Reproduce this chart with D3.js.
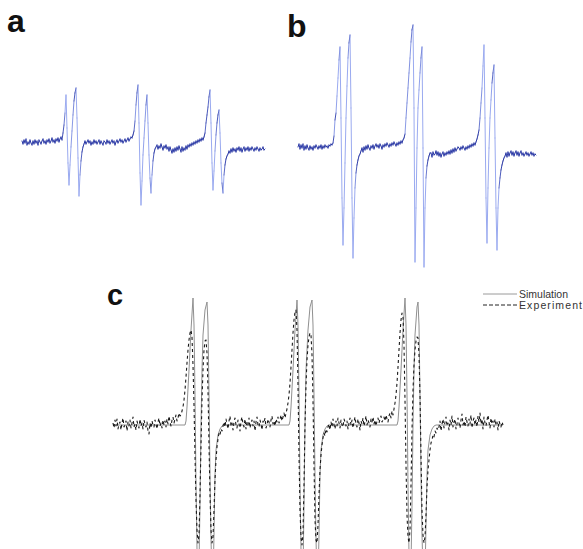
<!DOCTYPE html>
<html>
<head>
<meta charset="utf-8">
<script src="https://cdn.jsdelivr.net/npm/d3@7"></script>
<style>
  body { margin: 0; background: #fff; }
  svg { display: block; }
</style>
</head>
<body>
<div id="viz-svg"></div>
<script>
// EPR spectra, intensity, one value per field channel

// panel a
const intensityA = [
  2,-1,3,0,4,-2,1,-1,3,0,-2,2,-1,3,0,2,-2,3,1,-1,2,4,0,2,-1,3,1,4,0,2,5,1,3,0,4,2,5,1,4,6,3,
  10,18,30,48,15,-20,-42,-22,-4,12,28,42,50,55,25,-15,-53,-32,-18,-9,-4,-1,
  2,-1,1,3,0,2,-2,1,-1,3,0,2,-1,1,3,-1,2,0,-2,2,1,-1,3,0,2,-1,1,3,0,2,-2,1,3,0,2,4,1,3,0,2,4,1,3,5,2,4,6,5,8,
  12,22,38,50,58,20,-30,-62,-38,-12,5,22,38,48,20,-12,-35,-50,-32,-18,-10,-6,-4,
  -2,-6,-3,-5,-1,-4,-7,-3,-5,-2,-6,-4,-8,-4,-7,-10,-6,-9,-5,-8,-4,-7,-3,-6,-9,-4,-8,-5,-7,-3,-6,-2,-4,-1,-3,0,-2,1,-1,2,0,3,1,4,2,5,3,6,
  10,20,28,36,46,53,20,-20,-47,-28,-8,8,20,28,33,10,-20,-40,-50,-32,-22,-16,-13,-11,
  -8,-10,-6,-9,-5,-8,-6,-9,-5,-7,-4,-8,-5,-9,-6,-4,-8,-5,-7,-4,-8,-5,-7,-4,-6,-8,-5,-7,-4,-6,-8,-5,-7,-6,-4,-7,-6
];

// panel b
const intensityB = [
  1,4,-1,3,0,4,-2,2,-1,3,0,-2,2,-1,1,-2,2,0,3,1,-1,2,0,3,-1,2,0,3,1,2,0,3,2,4,3,5,
  12,28,35,52,70,88,101,30,-50,-97,-60,-15,30,62,90,105,113,40,-50,-110,-70,-40,-25,-17,-12,-8,-6,
  -3,0,-4,1,-2,2,-1,3,0,-2,2,0,3,-1,2,4,1,3,0,4,2,-1,3,1,4,2,5,3,1,4,2,5,3,6,4,2,5,3,6,4,7,5,8,10,14,
  30,45,60,75,90,106,118,123,40,-114,-60,0,40,58,75,90,101,0,-119,-60,-30,-18,-12,-8,-5,
  -5,-9,-4,-7,-6,-3,-7,-4,-8,-5,-9,-6,-4,-8,-5,-7,-4,-6,-3,-6,-2,-5,-1,-4,0,-3,-1,1,0,-2,1,-1,2,0,-2,1,-1,2,0,3,1,4,2,5,3,6,9,13,18,
  30,45,60,82,103,30,-50,-95,-40,0,30,48,65,75,83,10,-60,-102,-60,-40,-30,-22,-17,-13,-10,-8,
  -5,-9,-4,-8,-5,-3,-7,-4,-8,-5,-3,-7,-4,-8,-5,-3,-7,-5,-8,-6,-4,-7,-5,-8,-6,-4,-7,-5,-8,-6,-7
];

// panel c, simulation: [channel, intensity]
const simulationC = [
  [0,0],[72,0],[73,4],[74,18],[76,55],[78,95],[80,127],[81,100],[82,30],[83,-60],[84,-125],[85,-155],
  [86,-140],[87,-80],[88,0],[89,55],[90,90],[92,115],[94,123],[95,100],[96,30],[97,-50],[98,-115],
  [99,-150],[100,-155],[101,-110],[102,-50],[103,-25],[105,-10],[107,-4],[109,-1],[111,0],
  [176,0],[177,4],[178,18],[180,55],[182,95],[184,125],[185,100],[186,30],[187,-60],[188,-125],
  [189,-155],[190,-150],[191,-80],[192,0],[193,55],[195,95],[197,118],[199,125],[200,100],[201,30],
  [202,-50],[203,-115],[204,-150],[205,-155],[206,-110],[207,-50],[208,-25],[210,-10],[212,-4],[214,-1],[216,0],
  [284,0],[285,4],[286,18],[288,55],[290,95],[292,127],[293,100],[294,30],[295,-60],[296,-130],
  [297,-155],[298,-140],[299,-80],[300,0],[301,55],[302,90],[304,118],[305,123],[306,100],[307,30],
  [308,-50],[309,-110],[310,-145],[311,-155],[312,-150],[313,-100],[314,-50],[315,-25],[317,-10],
  [319,-4],[321,-1],[323,0],[390,0]
];

// panel c, experiment: one value per channel
const experimentC = [
  2,-3,5,-1,6,-4,1,3,-5,2,7,-2,0,4,-6,3,-1,5,-3,2,8,-2,1,-5,4,0,-3,6,-1,2,-4,5,1,-2,3,-6,-9,2,-3,4,
  0,-2,5,1,-4,3,7,-1,2,-3,5,0,4,-2,6,1,9,3,-1,5,8,2,6,10,4,7,12,9,
  10,14,18,25,35,48,62,75,85,92,95,88,60,20,-30,-75,-105,-118,-110,-70,-20,25,55,75,84,85,72,35,-20,-70,
  -105,-118,-112,-85,-55,-35,-22,-14,-8,-10,-4,-6,-1,
  3,-2,6,1,-4,4,9,-1,2,-5,3,7,0,-3,5,2,-6,4,8,1,-2,6,-4,3,0,7,-3,2,5,-1,4,-6,3,8,0,-2,5,1,-5,4,
  2,7,-3,0,6,3,-2,5,9,1,4,-1,6,3,8,2,5,10,4,8,12,7,
  12,16,22,30,42,58,75,92,105,113,115,95,40,-30,-85,-112,-120,-108,-60,0,40,65,80,88,92,90,70,25,-40,-95,
  -115,-118,-100,-70,-45,-30,-20,-13,-8,-11,-4,-7,-2,
  1,-5,3,-2,6,0,-4,4,-1,7,2,-3,5,0,-2,6,3,-1,4,-4,2,7,0,5,-3,3,8,1,-2,6,2,-5,4,1,7,-1,3,9,0,5,
  2,-2,6,3,8,1,5,-1,4,7,2,6,9,3,5,8,4,10,6,3,9,12,7,14,10,
  16,22,30,42,58,75,92,105,112,108,80,25,-40,-90,-112,-118,-105,-60,-5,35,60,75,84,88,87,70,30,-30,-85,-110,
  -118,-112,-90,-62,-45,-35,-25,-18,-15,-10,-12,-6,-8,-3,-5,
  -2,4,-6,1,6,-3,3,8,-1,2,-5,5,0,9,-2,3,6,-4,1,7,2,-3,5,11,0,4,-2,8,3,-1,6,1,10,-3,4,7,0,5,-2,9,
  3,12,1,6,-4,8,2,-1,5,10,3,-3,7,1,4,-2,6,0,3,-5,4,1,-2,3,0
];

const panelLabels = ["a", "b", "c"];
const legendLabels = ["Simulation", "Experiment"];

const width = 583;
const height = 549;

const svg = d3
  .select("#viz-svg")
  .append("svg")
  .attr("width", width)
  .attr("height", height)
  .style("font-family", "Arial, 'Liberation Sans', sans-serif");

svg.append("rect").attr("width", width).attr("height", height).attr("fill", "#fff");

function toPoints(values) {
  return values.map((v, i) => (Array.isArray(v) ? v : [i, v]));
}

function makeScales(pts, xRange, yRange, yDomain) {
  const x = d3
    .scaleLinear()
    .domain(d3.extent(pts, d => d[0]))
    .range(xRange);
  const y = d3.scaleLinear().domain(yDomain).range(yRange);
  return { x, y };
}

// blue scans: steep parts look pale, the noisy baseline dense and dark
const blueShade = d3.interpolateRgb("#2c3aa6", "#9aaaf0");

function drawBlue(values, xRange, yRange, yDomain) {
  const pts = toPoints(values);
  const { x, y } = makeScales(pts, xRange, yRange, yDomain);
  const segs = d3.pairs(pts);
  svg
    .append("g")
    .selectAll("line")
    .data(segs)
    .join("line")
    .attr("x1", d => x(d[0][0]))
    .attr("y1", d => y(d[0][1]))
    .attr("x2", d => x(d[1][0]))
    .attr("y2", d => y(d[1][1]))
    .attr("stroke", d => {
      const dy = Math.abs(y(d[1][1]) - y(d[0][1]));
      return blueShade(Math.min(1, Math.max(0, (dy - 4) / 14)));
    })
    .attr("stroke-width", 1)
    .attr("stroke-linecap", "round");
}

function drawTrace(values, xRange, yRange, yDomain, style) {
  const pts = toPoints(values);
  const { x, y } = makeScales(pts, xRange, yRange, yDomain);
  const line = d3
    .line()
    .x(d => x(d[0]))
    .y(d => y(d[1]));
  const path = svg
    .append("path")
    .datum(pts)
    .attr("d", line)
    .attr("fill", "none")
    .attr("stroke", style.color)
    .attr("stroke-width", style.width)
    .attr("stroke-linejoin", "round");
  if (style.dash) path.attr("stroke-dasharray", style.dash);
  return path;
}

// a and b
drawBlue(intensityA, [22, 265], [213, 73], [-70, 70]);
drawBlue(intensityB, [298, 536], [278, 18], [-130, 130]);

// c: simulation vs experiment
drawTrace(simulationC, [113, 503], [585, 265], [-160, 160], { color: "#909090", width: 1 });
drawTrace(experimentC, [113, 503], [585, 265], [-160, 160], { color: "#1a1a1a", width: 1.1, dash: "3,3" });

// panel letters
const labelPos = [
  { x: 7, y: 32, size: 32 },
  { x: 287, y: 37, size: 32 },
  { x: 107, y: 305, size: 29 }
];
svg
  .selectAll("text.panel")
  .data(panelLabels)
  .join("text")
  .attr("class", "panel")
  .attr("x", (d, i) => labelPos[i].x)
  .attr("y", (d, i) => labelPos[i].y)
  .attr("font-size", (d, i) => labelPos[i].size)
  .attr("font-weight", "bold")
  .attr("fill", "#111")
  .text(d => d);

// legend
const legend = svg
  .selectAll("g.legend")
  .data(legendLabels)
  .join("g")
  .attr("class", "legend")
  .attr("transform", (d, i) => `translate(483,${294 + i * 11})`);

legend
  .append("line")
  .attr("x1", 0)
  .attr("x2", 34)
  .attr("stroke", (d, i) => (i === 0 ? "#9a9a9a" : "#222"))
  .attr("stroke-width", 1)
  .attr("stroke-dasharray", (d, i) => (i === 0 ? null : "4,2"));

legend
  .append("text")
  .attr("x", 36)
  .attr("y", 4)
  .attr("font-size", 10.5)
  .attr("letter-spacing", (d, i) => (i === 0 ? 0 : 1.1))
  .attr("fill", "#333")
  .text(d => d);
</script>
</body>
</html>
